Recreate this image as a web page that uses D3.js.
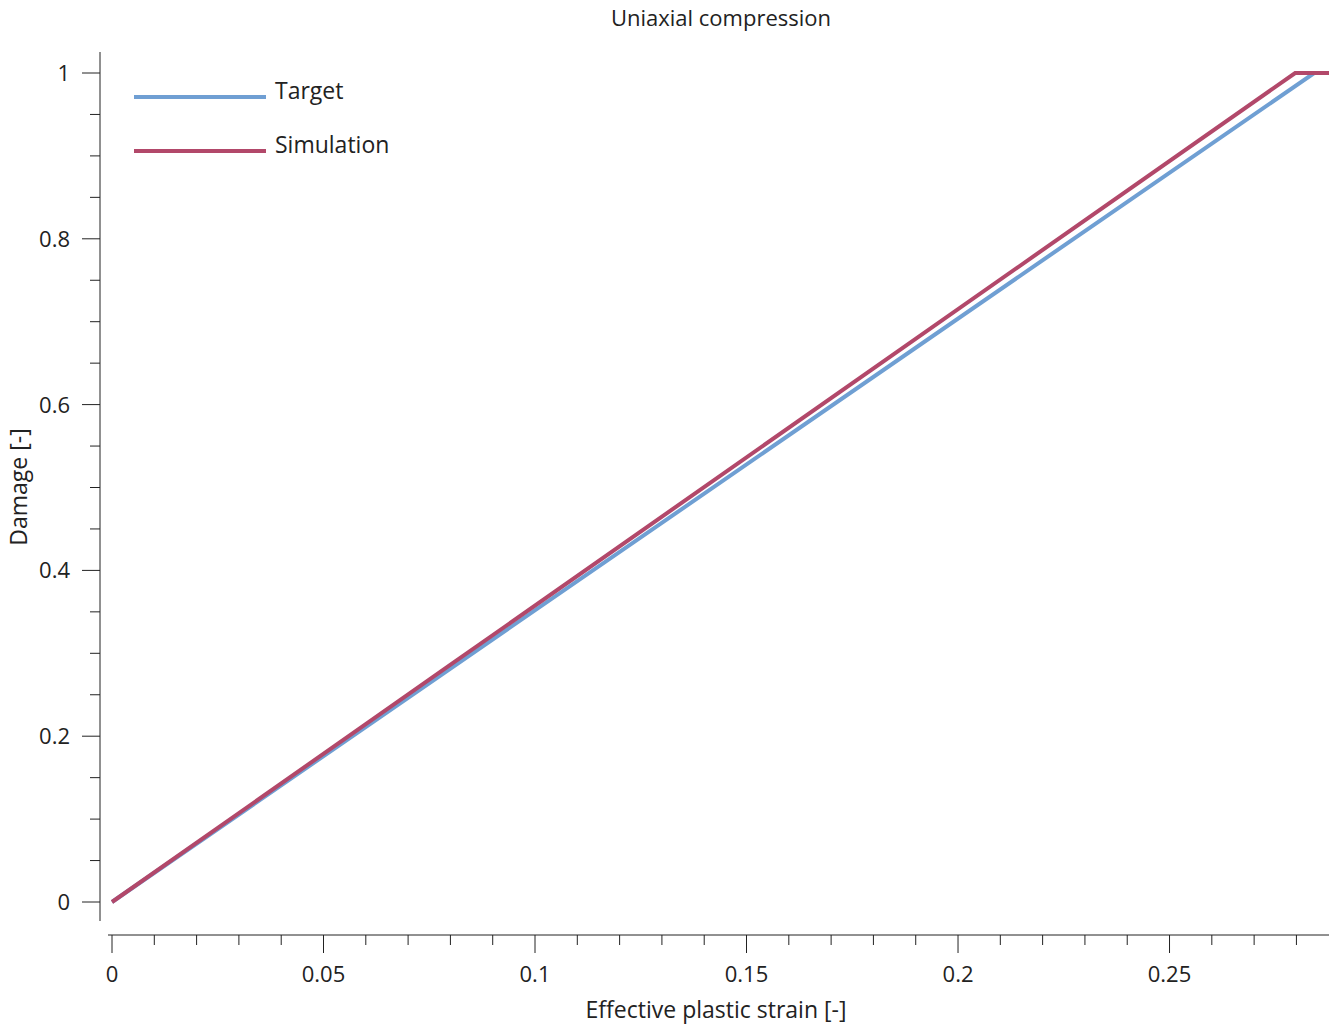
<!DOCTYPE html><html><head><script src="https://cdn.jsdelivr.net/npm/d3@7"></script>
<style>body{margin:0;background:#fff}text{font-family:"Segoe UI","Open Sans",sans-serif;fill:#222}</style></head><body><svg id="c" width="1339" height="1024"></svg><script>
const targetX=[0,0.2842,0.2877], targetY=[0,1,1];
const simX=[0,0.0797,0.2797,0.2877], simY=[0,0.285,1,1];
const xTicks=[0,0.05,0.1,0.15,0.2,0.25], yTicks=[0,0.2,0.4,0.6,0.8,1];
const svg=d3.select("#c");
const x=d3.scaleLinear().domain([0,0.2877]).range([112,1329]);
const y=d3.scaleLinear().domain([0,1]).range([902,73]);
const g=svg.append("g");
// axes
g.append("line").attr("x1",100).attr("x2",100).attr("y1",52).attr("y2",921).attr("stroke","#222");
g.append("line").attr("x1",x(0)-4).attr("x2",1329).attr("y1",935).attr("y2",935).attr("stroke","#222");
d3.range(0,29).forEach(i=>{const v=i/100;const maj=i%5==0;
 g.append("line").attr("x1",x(v)).attr("x2",x(v)).attr("y1",935).attr("y2",935+(maj?18:10)).attr("stroke","#222");});
xTicks.forEach(v=>g.append("text").attr("x",x(v)).attr("y",982).attr("text-anchor","middle").attr("font-size",22).text(v));
d3.range(-2,22).forEach(i=>{const v=i*0.05;const yy=y(v);if(yy<52||yy>921)return;const maj=i%4==0;
 g.append("line").attr("x1",100).attr("x2",100-(maj?18:10)).attr("y1",yy).attr("y2",yy).attr("stroke","#222");});
yTicks.forEach(v=>g.append("text").attr("x",70).attr("y",y(v)+8).attr("text-anchor","end").attr("font-size",22).text(v));
svg.append("text").attr("x",721).attr("y",26).attr("text-anchor","middle").attr("font-size",22).text("Uniaxial compression");
svg.append("text").attr("x",716).attr("y",1018).attr("text-anchor","middle").attr("font-size",23).text("Effective plastic strain [-]");
svg.append("text").attr("transform","translate(27,487) rotate(-90)").attr("text-anchor","middle").attr("font-size",23).text("Damage [-]");
const line=d3.line().x(d=>x(d[0])).y(d=>y(d[1]));
svg.append("path").attr("d",line(d3.zip(targetX,targetY))).attr("fill","none").attr("stroke","#6f9fd3").attr("stroke-width",4);
svg.append("path").attr("d",line(d3.zip(simX,simY))).attr("fill","none").attr("stroke","#b2486a").attr("stroke-width",4);
[["Target","#6f9fd3",97],["Simulation","#b2486a",151]].forEach(([t,c,yy])=>{
 svg.append("line").attr("x1",134).attr("x2",266).attr("y1",yy).attr("y2",yy).attr("stroke",c).attr("stroke-width",4);
 svg.append("text").attr("x",275).attr("y",yy+2).attr("font-size",23).text(t);});
</script></body></html>
